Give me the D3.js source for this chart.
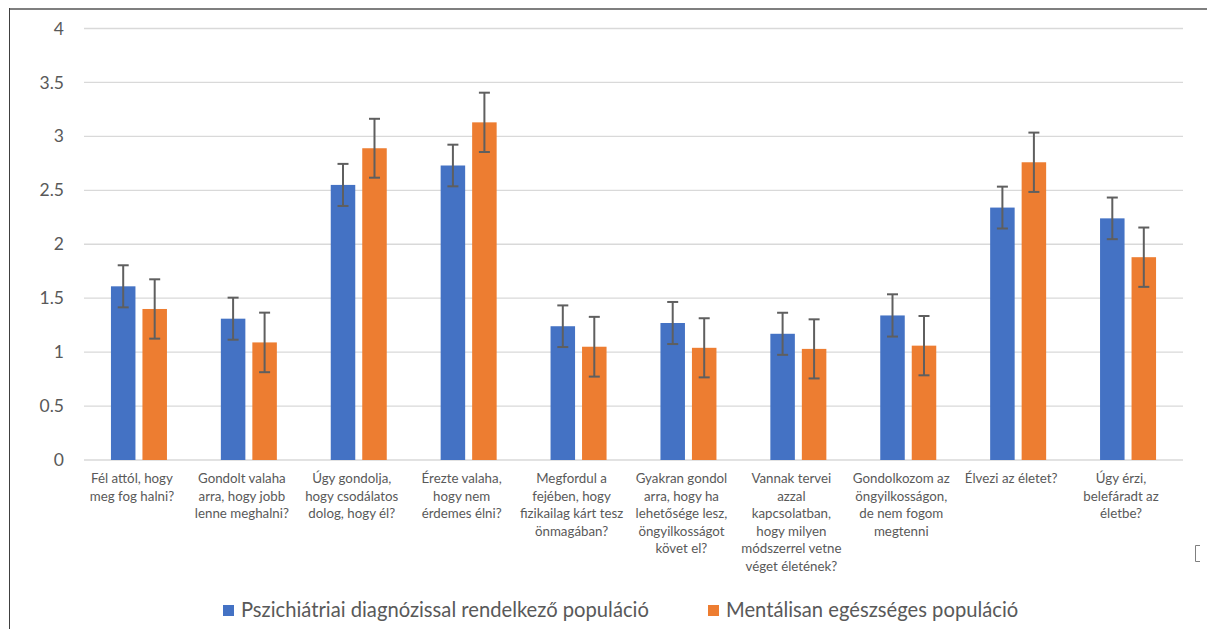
<!DOCTYPE html>
<html>
<head>
<meta charset="utf-8">
<script src="https://cdn.jsdelivr.net/npm/d3@7"></script>
<style>
  html, body { margin: 0; padding: 0; background: #fff; }
  svg { display: block; font-family: Lato, "Open Sans", sans-serif; }
</style>
</head>
<body>
<svg id="chart" width="1207" height="629"></svg>
<script>
// ---- Data ----
const categories = [
  ["Fél attól, hogy", "meg fog halni?"],
  ["Gondolt valaha", "arra, hogy jobb", "lenne meghalni?"],
  ["Úgy gondolja,", "hogy csodálatos", "dolog, hogy él?"],
  ["Érezte valaha,", "hogy nem", "érdemes élni?"],
  ["Megfordul a", "fejében, hogy", "fizikailag kárt tesz", "önmagában?"],
  ["Gyakran gondol", "arra, hogy ha", "lehetősége lesz,", "öngyilkosságot", "követ el?"],
  ["Vannak tervei", "azzal", "kapcsolatban,", "hogy milyen", "módszerrel vetne", "véget életének?"],
  ["Gondolkozom az", "öngyilkosságon,", "de nem fogom", "megtenni"],
  ["Élvezi az életet?"],
  ["Úgy érzi,", "belefáradt az", "életbe?"]
];
const seriesNames = ["Pszichiátriai diagnózissal rendelkező populáció", "Mentálisan egészséges populáció"];
const psychValues   = [1.61, 1.31, 2.55, 2.73, 1.24, 1.27, 1.17, 1.34, 2.34, 2.24];
const psychErrors   = [0.195, 0.195, 0.195, 0.193, 0.193, 0.195, 0.195, 0.196, 0.194, 0.193];
const healthyValues = [1.40, 1.09, 2.89, 3.13, 1.05, 1.04, 1.03, 1.06, 2.76, 1.88];
const healthyErrors = [0.275, 0.276, 0.273, 0.275, 0.277, 0.274, 0.274, 0.275, 0.275, 0.275];
const yTicks = [0, 0.5, 1, 1.5, 2, 2.5, 3, 3.5, 4];
const colors = ["#4472C4", "#ED7D31"];

// ---- Layout ----
const svg = d3.select("#chart");
const plotLeft = 84, plotRight = 1183, plotTop = 28.5, plotBottom = 460;
const textColor = "#595959";

const catIdx = categories.map((d, i) => i);
const x0 = d3.scaleBand().domain(catIdx).range([plotLeft, plotRight]).padding(0);
const x1 = d3.scaleBand().domain([0, 1]).range([0, 56]).paddingInner(0.222).paddingOuter(0);
const y = d3.scaleLinear().domain([0, 4]).range([plotBottom, plotTop]);

// chart-area frame (top and left edges visible)
svg.append("line").attr("x1", 9).attr("x2", 1207).attr("y1", 9).attr("y2", 9)
  .attr("stroke", "#7f7f7f").attr("stroke-width", 2);
svg.append("line").attr("x1", 9.5).attr("x2", 9.5).attr("y1", 8).attr("y2", 629)
  .attr("stroke", "#404040").attr("stroke-width", 1);

// gridlines
svg.append("g").selectAll("line").data(yTicks).join("line")
  .attr("x1", plotLeft).attr("x2", plotRight)
  .attr("y1", d => y(d)).attr("y2", d => y(d))
  .attr("stroke", "#d9d9d9").attr("stroke-width", 1.3);

// y axis via d3.axisLeft
const yAxis = svg.append("g").attr("transform", `translate(${plotLeft - 20},0)`)
  .call(d3.axisLeft(y).tickValues(yTicks).tickSize(0).tickPadding(0).tickFormat(d3.format("")));
yAxis.select(".domain").remove();
yAxis.selectAll("text").attr("fill", textColor).style("font-size", "17.5px")
  .style("font-family", "Lato, sans-serif");

// series table
const rows = catIdx.map(i => ({
  i,
  vals: [
    { s: 0, v: psychValues[i], e: psychErrors[i] },
    { s: 1, v: healthyValues[i], e: healthyErrors[i] }
  ]
}));

const groups = svg.append("g").selectAll("g").data(rows).join("g")
  .attr("transform", d => `translate(${x0(d.i) + x0.bandwidth() / 2 - 28},0)`);

groups.selectAll("rect").data(d => d.vals).join("rect")
  .attr("x", d => x1(d.s))
  .attr("width", x1.bandwidth())
  .attr("y", d => y(d.v))
  .attr("height", d => y(0) - y(d.v))
  .attr("fill", d => colors[d.s]);

// error bars
const eb = groups.selectAll("g.err").data(d => d.vals).join("g").attr("class", "err")
  .attr("stroke", "#5f5f5f").attr("stroke-width", 2);
eb.append("line")
  .attr("x1", d => x1(d.s) + x1.bandwidth() / 2).attr("x2", d => x1(d.s) + x1.bandwidth() / 2)
  .attr("y1", d => y(d.v + d.e)).attr("y2", d => y(d.v - d.e));
eb.append("line")
  .attr("x1", d => x1(d.s) + x1.bandwidth() / 2 - 5.5).attr("x2", d => x1(d.s) + x1.bandwidth() / 2 + 5.5)
  .attr("y1", d => y(d.v + d.e)).attr("y2", d => y(d.v + d.e));
eb.append("line")
  .attr("x1", d => x1(d.s) + x1.bandwidth() / 2 - 5.5).attr("x2", d => x1(d.s) + x1.bandwidth() / 2 + 5.5)
  .attr("y1", d => y(d.v - d.e)).attr("y2", d => y(d.v - d.e));

// category labels
const labels = svg.append("g").selectAll("text").data(rows).join("text")
  .attr("text-anchor", "middle")
  .attr("fill", textColor)
  .style("font-size", "13.3px")
  .attr("transform", d => `translate(${x0(d.i) + x0.bandwidth() / 2 - 7},${plotBottom + 23})`);
labels.selectAll("tspan").data(d => categories[d.i]).join("tspan")
  .attr("x", 0).attr("y", (d, j) => j * 17.6)
  .text(d => d);

// legend
const legendX = [223, 708];
const legend = svg.append("g").selectAll("g").data(seriesNames).join("g")
  .attr("transform", (d, i) => `translate(${legendX[i]},605)`);
legend.append("rect").attr("width", 11).attr("height", 11).attr("fill", (d, i) => colors[i]);
legend.append("text").attr("x", 18).attr("y", 12)
  .attr("fill", textColor).style("font-size", "20.2px").text(d => d);

// small selection bracket artifact at right
svg.append("path").attr("d", "M1200,545.5 H1195.5 V561.5 H1200")
  .attr("fill", "none").attr("stroke", "#7f7f7f").attr("stroke-width", 1);
</script>
</body>
</html>
